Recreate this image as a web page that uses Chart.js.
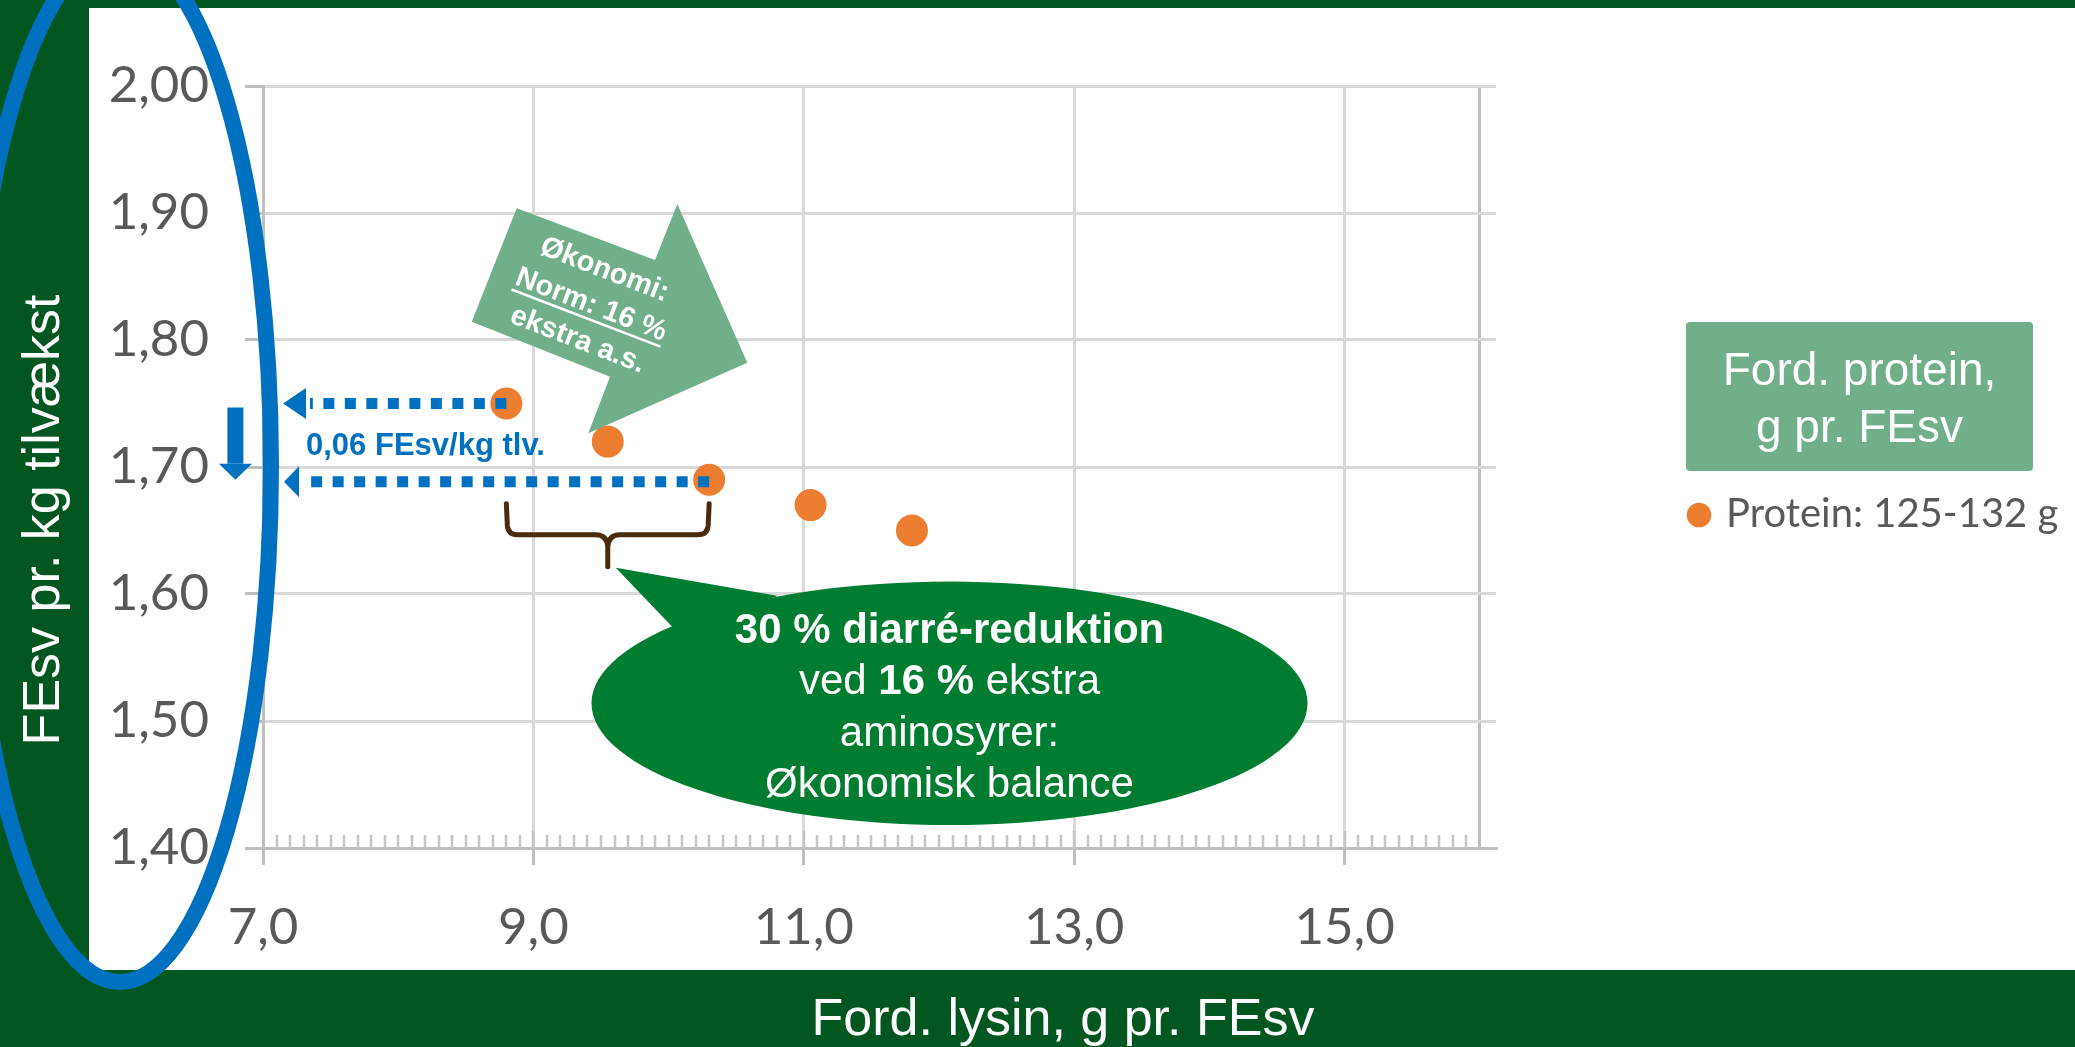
<!DOCTYPE html>
<html>
<head>
<meta charset="utf-8">
<script src="https://cdn.jsdelivr.net/npm/chart.js@4.4.0/dist/chart.umd.min.js"></script>
<style>
    html, body { margin: 0; padding: 0; background: #fff; }
    #wrap { width: 2075px; height: 1047px; }
</style>
</head>
<body>
<div id="wrap"><canvas id="myChart" width="2075" height="1047"></canvas></div>
<script>
// values
var lysin = [8.8, 9.55, 10.3, 11.05, 11.8];
var fesv = [1.75, 1.72, 1.69, 1.67, 1.65];
var seriesName = "Protein: 125-132 g";
var xTicks = [7, 9, 11, 13, 15];
var yTicks = [1.4, 1.5, 1.6, 1.7, 1.8, 1.9, 2.0];
var xTitle = "Ford. lysin, g pr. FEsv";
var yTitle = "FEsv pr. kg tilvækst";
var legendTitle = ["Ford. protein,", "g pr. FEsv"];
var arrowText = ["Økonomi:", "Norm: 16 %", "ekstra a.s."];
var diffText = "0,06 FEsv/kg tlv.";
// each line: list of [text, bold]
var bubbleLines = [
    [["30 % diarré-reduktion", true]],
    [["ved ", false], ["16 %", true], [" ekstra", false]],
    [["aminosyrer:", false]],
    [["Økonomisk balance", false]]
];

const W = 2075, H = 1047;
const ARIAL = "'Liberation Sans', Arial, sans-serif";
const frameGreen = '#02561F';
const blue = '#0070C0';
const paleGreen = '#71AE8A';
const orange = '#ED7D31';

Chart.defaults.font.family = ARIAL;

const rendering = document.getElementById("myChart").getContext("2d");

//frame, titles
const framePlugin = {
    id: 'frame',
    beforeDraw(chart) {
        const ctx = chart.ctx;
        ctx.save();
        ctx.fillStyle = '#fff';
        ctx.fillRect(0, 0, W, H);
        ctx.fillStyle = frameGreen;
        ctx.fillRect(0, 0, W, 8);
        ctx.fillRect(0, 0, 89, H);
        ctx.fillRect(0, 970, W, H - 970);

        ctx.fillStyle = '#fff';
        ctx.font = '52px ' + ARIAL;
        ctx.textAlign = 'center';
        ctx.textBaseline = 'alphabetic';
        ctx.fillText(xTitle, 1063, 1035);
        ctx.translate(59, 520);
        ctx.rotate(-Math.PI / 2);
        ctx.fillText(yTitle, 0, 0);
        ctx.restore();
    }
};

//minor ticks on x axis, every 0.1
const minorTicks = {
    id: 'minorTicks',
    beforeDatasetsDraw(chart) {
        const ctx = chart.ctx;
        const xs = chart.scales.x;
        const base = chart.scales.y.getPixelForValue(chart.scales.y.min);
        ctx.save();
        ctx.strokeStyle = '#C4C4C4';
        ctx.lineWidth = 2.5;
        ctx.beginPath();
        for (let i = 71; i < 160; ++i) {
            const px = Math.round(xs.getPixelForValue(i / 10));
            const len = (i % 20 === 10) ? 17 : 13;
            ctx.moveTo(px, base);
            ctx.lineTo(px, base - len);
        }
        ctx.stroke();
        ctx.restore();
    }
};

function dashedArrow(ctx, xFrom, y, xTip, headLen) {
    ctx.save();
    ctx.strokeStyle = blue;
    ctx.fillStyle = blue;
    ctx.lineWidth = 11;
    ctx.setLineDash([11, 10.5]);
    ctx.beginPath();
    ctx.moveTo(xFrom, y);
    ctx.lineTo(xTip + headLen + 4, y);
    ctx.stroke();
    ctx.beginPath();
    ctx.moveTo(xTip, y);
    ctx.lineTo(xTip + headLen, y - 15.5);
    ctx.lineTo(xTip + headLen, y + 15.5);
    ctx.closePath();
    ctx.fill();
    ctx.restore();
}

//annotations
const notes = {
    id: 'notes',
    afterDatasetsDraw(chart) {
        const ctx = chart.ctx;
        const xs = chart.scales.x, ys = chart.scales.y;
        const px = lysin.map(v => xs.getPixelForValue(v));
        const py = fesv.map(v => ys.getPixelForValue(v));
        const axisX = xs.getPixelForValue(7);

        // dotted arrows back to the axis
        dashedArrow(ctx, px[0], py[0], axisX + 20, 23);
        dashedArrow(ctx, px[2], py[2] + 2, axisX + 21, 15);

        // small down arrow
        ctx.save();
        ctx.fillStyle = blue;
        const ax = axisX - 27.6;
        ctx.fillRect(ax - 8, py[0] + 4, 16, (py[2] - 16) - (py[0] + 4));
        ctx.beginPath();
        ctx.moveTo(ax - 16.5, py[2] - 16);
        ctx.lineTo(ax + 16.5, py[2] - 16);
        ctx.lineTo(ax, py[2]);
        ctx.closePath();
        ctx.fill();

        ctx.font = 'bold 31px ' + ARIAL;
        ctx.textAlign = 'left';
        ctx.textBaseline = 'alphabetic';
        ctx.fillText(diffText, axisX + 43, py[0] + 51);
        ctx.restore();

        // brace under point 1..3
        const bl = px[0], br = px[2], bm = (bl + br) / 2;
        const top = py[2] + 24, mid = py[2] + 55, tip = py[2] + 87;
        ctx.save();
        ctx.strokeStyle = '#4A2B0E';
        ctx.lineWidth = 5;
        ctx.lineJoin = 'round';
        ctx.lineCap = 'round';
        ctx.beginPath();
        ctx.moveTo(bl, top);
        ctx.lineTo(bl + 1, mid - 9);
        ctx.quadraticCurveTo(bl + 2, mid, bl + 11, mid);
        ctx.lineTo(bm - 12, mid);
        ctx.quadraticCurveTo(bm - 1, mid, bm, mid + 12);
        ctx.lineTo(bm, tip);
        ctx.moveTo(bm, mid + 12);
        ctx.quadraticCurveTo(bm + 1, mid, bm + 12, mid);
        ctx.lineTo(br - 11, mid);
        ctx.quadraticCurveTo(br - 2, mid, br - 1, mid - 9);
        ctx.lineTo(br, top);
        ctx.stroke();
        ctx.restore();

        // rotated green arrow
        ctx.save();
        ctx.fillStyle = paleGreen;
        ctx.beginPath();
        ctx.moveTo(516.7, 208.3);
        ctx.lineTo(655, 260);
        ctx.lineTo(677.3, 204);
        ctx.lineTo(747.3, 362.7);
        ctx.lineTo(588.3, 433.3);
        ctx.lineTo(610, 376.7);
        ctx.lineTo(471.7, 321.7);
        ctx.closePath();
        ctx.fill();
        ctx.translate(591, 305);
        ctx.rotate(21 * Math.PI / 180);
        ctx.fillStyle = '#fff';
        ctx.strokeStyle = '#fff';
        ctx.font = 'bold 29px ' + ARIAL;
        ctx.textAlign = 'center';
        ctx.textBaseline = 'middle';
        for (let i = 0; i < arrowText.length; ++i) {
            ctx.fillText(arrowText[i], 0, (i - 1) * 37.5);
        }
        const uw = ctx.measureText(arrowText[1]).width;
        ctx.lineWidth = 2.5;
        ctx.beginPath();
        ctx.moveTo(-uw / 2, 14);
        ctx.lineTo(uw / 2, 14);
        ctx.stroke();
        ctx.restore();

        // speech bubble
        ctx.save();
        ctx.fillStyle = '#017D32';
        ctx.beginPath();
        ctx.ellipse(949.5, 703.3, 358, 121.7, 0, 0, Math.PI * 2);
        ctx.fill();
        ctx.beginPath();
        ctx.moveTo(672.2, 626.7);
        ctx.lineTo(bm + 8, tip + 1);
        ctx.lineTo(778.4, 596);
        ctx.closePath();
        ctx.fill();
        ctx.fillStyle = '#fff';
        ctx.textBaseline = 'alphabetic';
        ctx.textAlign = 'left';
        for (let i = 0; i < bubbleLines.length; ++i) {
            const parts = bubbleLines[i];
            let total = 0;
            const widths = parts.map(p => {
                ctx.font = (p[1] ? 'bold ' : '') + '42px ' + ARIAL;
                const w = ctx.measureText(p[0]).width;
                total += w;
                return w;
            });
            let x = 949.5 - total / 2;
            parts.forEach((p, k) => {
                ctx.font = (p[1] ? 'bold ' : '') + '42px ' + ARIAL;
                ctx.fillText(p[0], x, 643.3 + i * 51.1);
                x += widths[k];
            });
        }
        ctx.restore();

        // legend
        ctx.save();
        ctx.fillStyle = paleGreen;
        ctx.beginPath();
        ctx.roundRect(1686, 322, 347, 149, 4);
        ctx.fill();
        ctx.fillStyle = '#fff';
        ctx.font = '46px ' + ARIAL;
        ctx.textAlign = 'center';
        ctx.fillText(legendTitle[0], 1859.5, 385);
        ctx.fillText(legendTitle[1], 1859.5, 441.7);
        const ds = chart.data.datasets[0];
        ctx.fillStyle = ds.backgroundColor;
        ctx.beginPath();
        ctx.arc(1699, 515, 12.3, 0, Math.PI * 2);
        ctx.fill();
        ctx.fillStyle = '#595959';
        ctx.font = "40px Lato";
        ctx.textAlign = 'left';
        ctx.fillText(ds.label, 1726, 527);
        ctx.restore();
    },
    afterDraw(chart) {
        // big blue ring over the y axis
        const ctx = chart.ctx;
        ctx.save();
        ctx.strokeStyle = blue;
        ctx.lineWidth = 16;
        ctx.beginPath();
        ctx.ellipse(120, 466, 151, 516, 0, 0, Math.PI * 2);
        ctx.stroke();
        ctx.restore();
    }
};

function fmt(v, d) {
    return v.toFixed(d).replace('.', ',');
}

const config = {
    type: 'scatter',
    data: {
        datasets: [{
            label: seriesName,
            data: lysin.map((x, i) => ({x: x, y: fesv[i]})),
            backgroundColor: orange,
            borderWidth: 0,
            pointRadius: 16,
            pointHoverRadius: 16
        }]
    },
    options: {
        responsive: false,
        animation: false,
        devicePixelRatio: 1,
        events: [],
        layout: {
            autoPadding: false,
            padding: {left: 0, top: 86, right: 579, bottom: 0}
        },
        plugins: {
            legend: {display: false},
            tooltip: {enabled: false}
        },
        scales: {
            x: {
                type: 'linear',
                min: 7,
                max: 16.12,
                afterBuildTicks: function (s) {
                    s.ticks = xTicks.concat([16]).map(v => ({value: v}));
                },
                afterFit: function (s) { s.height = 199; },
                grid: {
                    color: c => (c.tick && c.tick.value === 16) ? '#BFBFBF' : '#D9D9D9',
                    lineWidth: 3,
                    tickLength: 17,
                    tickWidth: 3,
                    tickColor: c => (c.tick && c.tick.value === 16) ? 'rgba(0,0,0,0)' : '#BFBFBF'
                },
                border: {color: '#BFBFBF', width: 3},
                ticks: {
                    callback: v => v === 16 ? '' : fmt(v, 1),
                    font: {family: 'Lato', size: 51},
                    color: '#595959',
                    padding: 32,
                    maxRotation: 0,
                    autoSkip: false
                }
            },
            y: {
                min: 1.4,
                max: 2.0,
                afterBuildTicks: function (s) {
                    s.ticks = yTicks.map(v => ({value: v}));
                },
                afterFit: function (s) { s.width = 263; },
                grid: {
                    color: '#D9D9D9',
                    lineWidth: 3,
                    tickLength: 18,
                    tickWidth: 3,
                    tickColor: '#BFBFBF'
                },
                border: {color: '#BFBFBF', width: 3},
                ticks: {
                    callback: v => fmt(v, 2),
                    font: {family: 'Lato', size: 51},
                    color: '#595959',
                    padding: 36
                }
            }
        }
    },
    plugins: [framePlugin, minorTicks, notes]
};

let renderingChart = new Chart(rendering, config);
</script>
</body>
</html>
